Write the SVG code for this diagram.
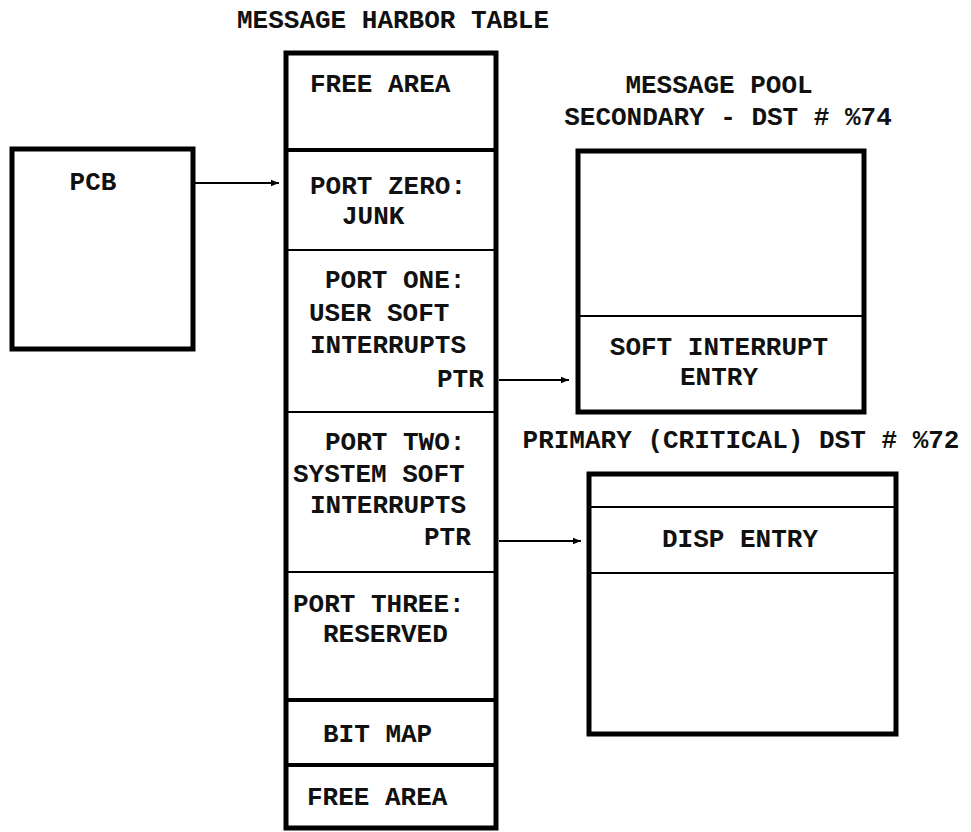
<svg xmlns="http://www.w3.org/2000/svg" width="971" height="832" viewBox="0 0 971 832">
<defs>
<style>
.t{font-family:"Liberation Mono","Courier New",monospace;font-size:26px;font-weight:bold;fill:#111}
.m{text-anchor:middle}
.box{fill:#fff;stroke:#000;stroke-width:5}
.thick{stroke:#000;stroke-width:4}
.thin{stroke:#000;stroke-width:2}
.conn{stroke:#000;stroke-width:2;fill:none}
</style>
<marker id="ah" viewBox="0 0 10 10" refX="10" refY="5" markerWidth="10" markerHeight="8" markerUnits="userSpaceOnUse" orient="auto">
<path d="M0,1 L10,5 L0,9 z" fill="#000"/>
</marker>
</defs>
<rect width="971" height="832" fill="#fff"/>

<text class="t m" x="393" y="28">MESSAGE HARBOR TABLE</text>

<g id="pcb">
<rect class="box" x="12" y="149" width="181" height="200"/>
<text class="t m" x="93" y="190">PCB</text>
</g>

<g id="harbor-table">
<rect class="box" x="286" y="53" width="210" height="775"/>
<line class="thick" x1="286" y1="150" x2="496" y2="150"/>
<line class="thin" x1="286" y1="250" x2="496" y2="250"/>
<line class="thin" x1="286" y1="412" x2="496" y2="412"/>
<line class="thin" x1="286" y1="572" x2="496" y2="572"/>
<line class="thick" x1="286" y1="700" x2="496" y2="700"/>
<line class="thick" x1="286" y1="765" x2="496" y2="765"/>
<text class="t" x="310" y="92">FREE AREA</text>
<text class="t" x="310" y="194">PORT ZERO:</text>
<text class="t" x="342" y="224">JUNK</text>
<text class="t" x="325" y="288">PORT ONE:</text>
<text class="t" x="309" y="321">USER SOFT</text>
<text class="t" x="310" y="353">INTERRUPTS</text>
<text class="t" x="437" y="387">PTR</text>
<text class="t" x="325" y="450">PORT TWO:</text>
<text class="t" x="293" y="482">SYSTEM SOFT</text>
<text class="t" x="310" y="513">INTERRUPTS</text>
<text class="t" x="424" y="545">PTR</text>
<text class="t" x="293" y="612">PORT THREE:</text>
<text class="t" x="323" y="642">RESERVED</text>
<text class="t" x="323" y="742">BIT MAP</text>
<text class="t" x="307" y="805">FREE AREA</text>
</g>

<g id="secondary-pool">
<text class="t m" x="719" y="93">MESSAGE POOL</text>
<text class="t m" x="728" y="125">SECONDARY - DST # %74</text>
<rect class="box" x="578" y="151" width="286" height="261"/>
<line class="thin" x1="578" y1="316" x2="864" y2="316"/>
<text class="t m" x="719" y="355">SOFT INTERRUPT</text>
<text class="t m" x="719" y="385">ENTRY</text>
</g>

<g id="primary-pool">
<text class="t m" x="741" y="448">PRIMARY (CRITICAL) DST # %72</text>
<rect class="box" x="589" y="474" width="307" height="260"/>
<line class="thin" x1="589" y1="507" x2="896" y2="507"/>
<line class="thin" x1="589" y1="573" x2="896" y2="573"/>
<text class="t m" x="740" y="547">DISP ENTRY</text>
</g>

<g id="connectors">
<line class="conn" x1="195" y1="183" x2="279" y2="183" marker-end="url(#ah)"/>
<line class="conn" x1="499" y1="380" x2="569" y2="380" marker-end="url(#ah)"/>
<line class="conn" x1="499" y1="541" x2="581" y2="541" marker-end="url(#ah)"/>
</g>
</svg>
